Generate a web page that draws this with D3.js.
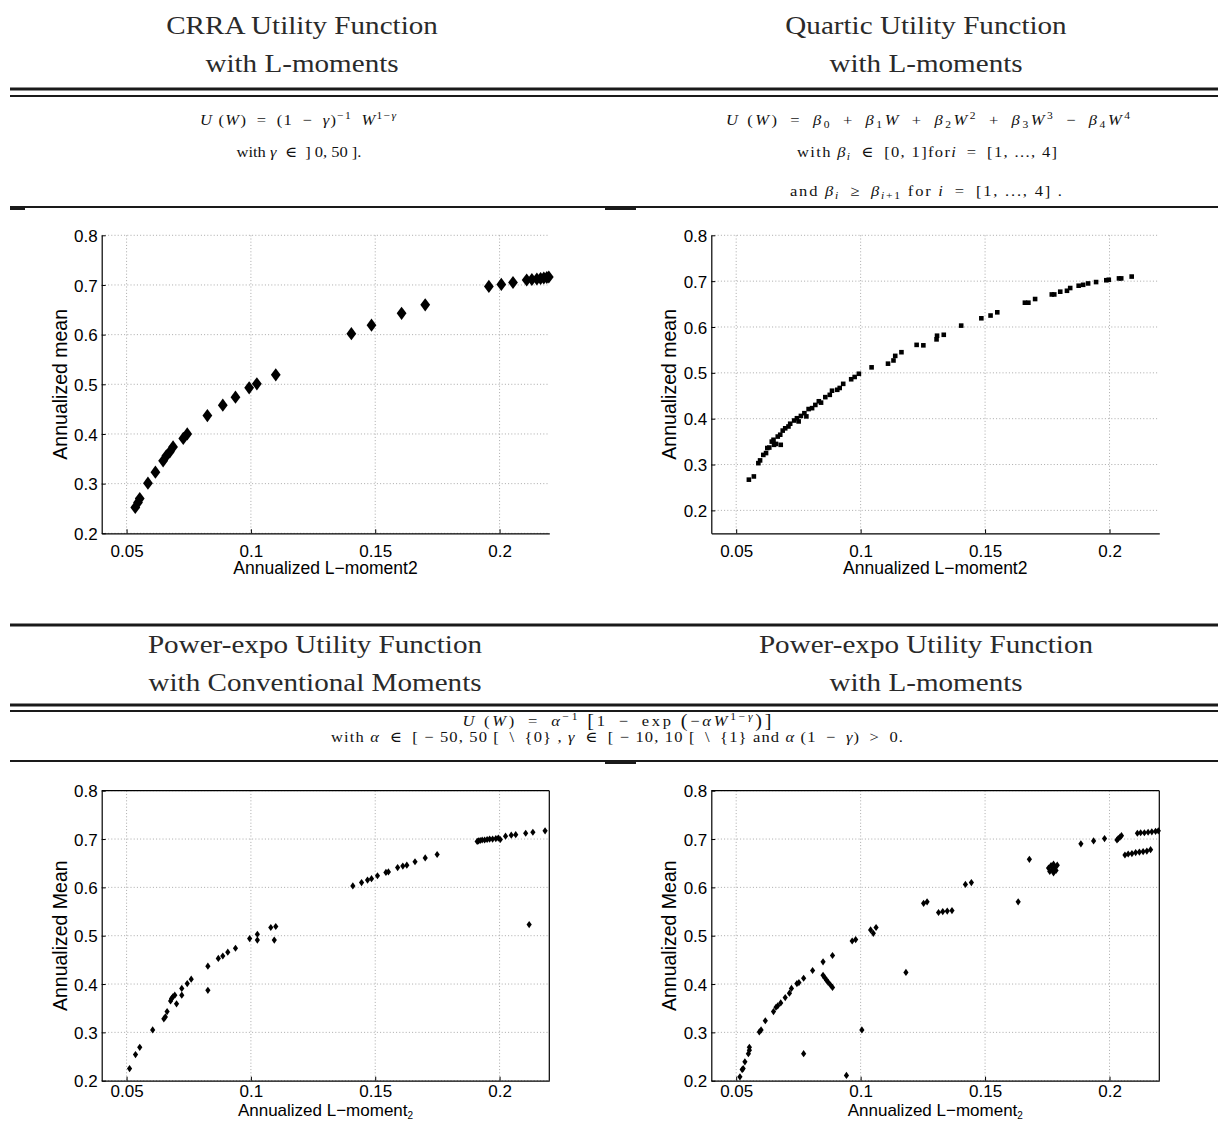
<!DOCTYPE html>
<html><head><meta charset="utf-8">
<script src="https://cdn.jsdelivr.net/npm/d3@7"></script>
<style>body{margin:0;background:#fff}</style>
</head><body><svg id="c" width="1218" height="1122"></svg>
<script>
// ---------- data ----------
const xTicks = [0.05, 0.1, 0.15, 0.2];
const xTickLabels = ["0.05", "0.1", "0.15", "0.2"];
const yTicks = [0.2, 0.3, 0.4, 0.5, 0.6, 0.7, 0.8];
const yTickLabels = ["0.2", "0.3", "0.4", "0.5", "0.6", "0.7", "0.8"];

const panelTitles = [
  ["CRRA Utility Function", "with L-moments"],
  ["Quartic Utility Function", "with L-moments"],
  ["Power-expo Utility Function", "with Conventional Moments"],
  ["Power-expo Utility Function", "with L-moments"]
];
const xLabels = ["Annualized L\u2212moment2", "Annualized L\u2212moment2", "Annualized L\u2212moment", "Annualized L\u2212moment"];
const xLabelSubs = ["", "", "2", "2"];
const yLabels = ["Annualized mean", "Annualized mean", "Annualized Mean", "Annualized Mean"];

const crraL2 = [0.0535,0.0546,0.0553,0.0586,0.0616,0.0647,0.0660,0.0674,0.0687,0.0728,0.0744,0.0825,0.0887,0.0938,0.0993,0.1024,0.1100,0.1404,0.1485,0.1606,0.1701,0.1957,0.2007,0.2054,0.2109,0.2130,0.2150,0.2165,0.2178,0.2190,0.2198];
const crraMean = [0.252,0.262,0.270,0.301,0.323,0.346,0.356,0.364,0.374,0.391,0.400,0.437,0.458,0.474,0.493,0.501,0.519,0.602,0.619,0.643,0.660,0.697,0.701,0.705,0.710,0.711,0.712,0.713,0.714,0.715,0.716];

const quartL2 = [0.0551,0.0571,0.0589,0.0596,0.0609,0.0620,0.0625,0.0633,0.0643,0.0650,0.0652,0.0660,0.0667,0.0677,0.0679,0.0687,0.0697,0.0710,0.0717,0.0733,0.0744,0.0751,0.0760,0.0774,0.0782,0.0791,0.0805,0.0818,0.0832,0.0841,0.0858,0.0876,0.0885,0.0906,0.0916,0.0930,0.0962,0.0976,0.0993,0.1044,0.1110,0.1132,0.1139,0.1164,0.1225,0.1252,0.1305,0.1307,0.1334,0.1404,0.1485,0.1522,0.1549,0.1660,0.1674,0.1701,0.1768,0.1778,0.1802,0.1829,0.1842,0.1876,0.1894,0.1914,0.1946,0.1987,0.1997,0.2038,0.2047,0.2089];
const quartMean = [0.267,0.274,0.303,0.309,0.321,0.325,0.336,0.337,0.350,0.354,0.343,0.345,0.361,0.365,0.343,0.374,0.379,0.383,0.389,0.396,0.401,0.394,0.406,0.412,0.405,0.421,0.423,0.430,0.438,0.435,0.447,0.452,0.461,0.463,0.467,0.476,0.486,0.491,0.498,0.512,0.520,0.527,0.537,0.545,0.561,0.560,0.573,0.581,0.583,0.603,0.619,0.625,0.632,0.653,0.653,0.661,0.671,0.671,0.677,0.679,0.685,0.690,0.692,0.695,0.698,0.702,0.703,0.706,0.706,0.710];

const peConvL2 = [0.0512,0.0536,0.0553,0.0605,0.0650,0.0656,0.0663,0.0677,0.0681,0.0687,0.0694,0.0701,0.0722,0.0722,0.0744,0.0760,0.0827,0.0827,0.0869,0.0887,0.0907,0.0938,0.0995,0.1026,0.1026,0.1080,0.1100,0.1094,0.1410,0.1445,0.1469,0.1485,0.1509,0.1543,0.1553,0.1590,0.1611,0.1627,0.1660,0.1701,0.1749,0.1910,0.1915,0.1922,0.1930,0.1940,0.1950,0.1960,0.1972,0.1985,0.1995,0.2003,0.2024,0.2047,0.2065,0.2105,0.2134,0.2183,0.2119];
const peConvMean = [0.225,0.254,0.269,0.305,0.328,0.332,0.343,0.365,0.370,0.374,0.377,0.359,0.391,0.377,0.401,0.410,0.437,0.387,0.453,0.458,0.466,0.474,0.494,0.503,0.491,0.517,0.519,0.491,0.603,0.610,0.615,0.618,0.624,0.631,0.632,0.641,0.644,0.646,0.653,0.661,0.668,0.695,0.696,0.697,0.698,0.698,0.699,0.700,0.700,0.701,0.702,0.699,0.706,0.708,0.709,0.712,0.714,0.717,0.523];

const peLL2 = [0.0515,0.0524,0.0528,0.0535,0.0549,0.0553,0.0553,0.0593,0.0600,0.0617,0.0650,0.0660,0.0667,0.0679,0.0697,0.0714,0.0722,0.0744,0.0752,0.0771,0.0807,0.0849,0.0887,0.0849,0.0856,0.0863,0.0869,0.0879,0.0887,0.0966,0.0980,0.1040,0.1051,0.1062,0.1005,0.0943,0.0771,0.1182,0.1253,0.1267,0.1313,0.1330,0.1348,0.1367,0.1421,0.1445,0.1633,0.1678,0.1755,0.1760,0.1765,0.1770,0.1775,0.1780,0.1785,0.1790,0.1775,0.1885,0.1936,0.1980,0.2030,0.2035,0.2042,0.2048,0.2062,0.2075,0.2090,0.2105,0.2120,0.2135,0.2150,0.2165,0.2112,0.2125,0.2140,0.2155,0.2170,0.2185,0.2196];
const peLMean = [0.208,0.223,0.225,0.239,0.256,0.263,0.269,0.301,0.305,0.324,0.343,0.352,0.355,0.361,0.372,0.381,0.391,0.401,0.403,0.412,0.428,0.446,0.459,0.418,0.413,0.408,0.404,0.398,0.393,0.489,0.492,0.512,0.505,0.517,0.305,0.211,0.256,0.424,0.567,0.570,0.548,0.550,0.551,0.552,0.606,0.610,0.570,0.658,0.640,0.633,0.645,0.637,0.630,0.642,0.635,0.646,0.648,0.690,0.696,0.701,0.698,0.701,0.704,0.707,0.667,0.669,0.670,0.672,0.673,0.674,0.675,0.678,0.712,0.713,0.713,0.714,0.715,0.716,0.717];

// formulas as [text, style] runs: i = italic, ^ = superscript, _ = subscript, B = big bracket
const S = "\u2002"; // en space used for math operator spacing
const formulaCRRA = [["U","i"],[" (",""],["W","i"],[")"+S+"="+S+"(1"+S+"\u2212"+S,""],["\u03b3","i"],[")",""],["\u22121","^"],[S,""],["W","i"],["1\u2212","^"],["\u03b3","^i"]];
const formulaCRRA2 = [["with ",""],["\u03b3","i"],[S+"\u2208"+S+"] 0, 50 ].",""]];
const formulaQuart = [["U","i"],[" (",""],["W","i"],[")"+S+"="+S,""],["\u03b2","i"],["0","_"],[S+"+"+S,""],["\u03b2","i"],["1","_"],["W","i"],[S+"+"+S,""],["\u03b2","i"],["2","_"],["W","i"],["2","^"],[S+"+"+S,""],["\u03b2","i"],["3","_"],["W","i"],["3","^"],[S+"\u2212"+S,""],["\u03b2","i"],["4","_"],["W","i"],["4","^"]];
const formulaQuart2 = [["with ",""],["\u03b2","i"],["i","_i"],[S+"\u2208"+S+"[0, 1]for",""],["i","i"],[S+"="+S+"[1, ..., 4]",""]];
const formulaQuart3 = [["and ",""],["\u03b2","i"],["i","_i"],[S+"\u2265"+S,""],["\u03b2","i"],["i","_i"],["+1","_"],[" for ",""],["i","i"],[S+"="+S+"[1, ..., 4] .",""]];
const formulaPE = [["U","i"],[" (",""],["W","i"],[")"+S+"="+S,""],["\u03b1","i"],["\u22121","^"],[" ",""],["[","B"],["1"+S+"\u2212"+S+"exp ",""],["(","B"],["\u2212",""],["\u03b1W","i"],["1\u2212","^"],["\u03b3","^i"],[")","B"],["]","B"]];
const formulaPE2 = [["with ",""],["\u03b1","i"],[S+"\u2208"+S+"[ \u2212 50, 50 ["+S+"\\"+S+"{0} , ",""],["\u03b3","i"],[S+"\u2208"+S+"[ \u2212 10, 10 ["+S+"\\"+S+"{1} and ",""],["\u03b1","i"],[" (1"+S+"\u2212"+S,""],["\u03b3","i"],[")"+S+">"+S+"0.",""]];

// ---------- drawing ----------
const svg = d3.select("#c");
svg.append("rect").attr("width",1218).attr("height",1122).attr("fill","#fff");
const SERIF = "'Liberation Serif','DejaVu Serif',serif";
const SANS = "'Liberation Sans',Arial,Helvetica,sans-serif";

function rich(x, y, runs, size, sx, width) {
  const t = svg.append("text").attr("transform", `translate(${x},${y}) scale(${sx},1)`)
    .attr("text-anchor","middle").attr("font-family", SERIF)
    .attr("font-size", size).attr("fill","#111");
  let cur = 0;
  runs.forEach(([s, st]) => {
    let off = 0, fs = size;
    if (st.includes("^")) { off = -0.42*size; fs = 0.7*size; }
    if (st.includes("_")) { off = 0.22*size; fs = 0.7*size; }
    if (st.includes("B")) { off = 0.06*size; fs = 1.22*size; }
    const ts = t.append("tspan").attr("dy", off - cur).attr("font-size", fs).text(s);
    if (st.includes("i")) ts.attr("font-style","italic");
    cur = off;
  });
  const natural = t.node().getComputedTextLength();
  if (width && natural * sx < width) t.attr("textLength", width / sx).attr("lengthAdjust","spacing");
  return t;
}
function rule(y, w, x0=10, x1=1218) {
  svg.append("line").attr("x1",x0).attr("x2",x1).attr("y1",y).attr("y2",y)
    .attr("stroke","#1a1a1a").attr("stroke-width",w);
}

// header rules
rule(89, 3); rule(96, 2.2);
rule(207, 2); rule(209, 2, 10, 25); rule(209, 2, 605, 636);
rule(625, 3); rule(705, 3); rule(711, 2.2);
rule(761, 2); rule(763, 2, 605, 636);

// titles
const colCx = [[302, 926], [315, 926]];
const titleY = [[34, 72], [653, 691]];
panelTitles.forEach((tt, i) => {
  const row = Math.floor(i / 2), cx = colCx[row][i % 2];
  tt.forEach((s, j) => {
    svg.append("text").attr("transform", `translate(${cx},${titleY[row][j]}) scale(1.12,1)`).attr("text-anchor","middle")
      .attr("font-family", SERIF).attr("font-size", 26).attr("fill","#2a2a2a").text(s);
  });
});

// formulas
rich(298, 125, formulaCRRA, 15, 1.1, 196);
rich(299, 157, formulaCRRA2, 15, 1.1, 112);
rich(928, 125, formulaQuart, 15, 1.1, 404);
rich(927, 157, formulaQuart2, 15, 1.1, 260);
rich(926, 196, formulaQuart3, 15, 1.1, 272);
rich(617, 726, formulaPE, 15, 1.1, 309);
rich(617, 742, formulaPE2, 15, 1.1, 572);

// panels
const panels = [
  {x0:101.7, x1:549.3, y0:235.3, y1:533.3, yd:[0.2,0.8], box:false, xs:crraL2, ys:crraMean, mk:"bigD", tp:8, xl:41, xf:17.5},
  {x0:711.3, x1:1159.3, y0:235.3, y1:533.3, yd:[0.15,0.8], box:false, xs:quartL2, ys:quartMean, mk:"sq", tp:8, xl:41, xf:17.5},
  {x0:101.7, x1:549.3, y0:790.7, y1:1080.7, yd:[0.2,0.8], box:true, xs:peConvL2, ys:peConvMean, mk:"smD", tp:1, xl:35.5, xf:17},
  {x0:711.3, x1:1159.3, y0:790.7, y1:1080.7, yd:[0.2,0.8], box:true, xs:peLL2, ys:peLMean, mk:"smD", tp:1, xl:35.5, xf:17}
];
const markers = {
  bigD: "M0,-6.6L4.9,0L0,6.6L-4.9,0Z",
  smD: "M0,-3.6L2.6,0L0,3.6L-2.6,0Z",
  sq: "M-2.3,-2.3H2.3V2.3H-2.3Z"
};

panels.forEach((p, i) => {
  const x = d3.scaleLinear().domain([0.04, 0.22]).range([p.x0, p.x1]);
  const y = d3.scaleLinear().domain(p.yd).range([p.y1, p.y0]);
  const g = svg.append("g");
  // grid
  const grid = g.append("g").attr("stroke","#a0a0a0").attr("stroke-width",0.9).attr("stroke-dasharray","1,2.2");
  xTicks.forEach(v => grid.append("line").attr("x1",x(v)).attr("x2",x(v)).attr("y1",p.y0).attr("y2",p.y1));
  yTicks.forEach(v => grid.append("line").attr("x1",p.x0).attr("x2",p.x1).attr("y1",y(v)).attr("y2",y(v)));
  // axes
  const xa = d3.axisBottom(x).tickValues(xTicks).tickFormat((d, k) => xTickLabels[k]).tickSizeInner(-4).tickSizeOuter(0).tickPadding(p.tp);
  const ya = d3.axisLeft(y).tickValues(yTicks).tickFormat((d, k) => yTickLabels[k]).tickSizeInner(-4).tickSizeOuter(0).tickPadding(4);
  const gx = g.append("g").attr("transform", `translate(0,${p.y1})`).call(xa);
  const gy = g.append("g").attr("transform", `translate(${p.x0},0)`).call(ya);
  [gx, gy].forEach(a => {
    a.selectAll("path").attr("stroke","#000").attr("stroke-width",1.2);
    a.selectAll("line").attr("stroke","#000");
    a.selectAll("text").attr("font-family", SANS).attr("font-size", 17).attr("fill","#000");
  });
  gx.selectAll("text").attr("dy","0.9em");
  gy.selectAll("text").attr("dy","0.36em");
  if (p.box) {
    g.append("line").attr("x1",p.x0).attr("x2",p.x1).attr("y1",p.y0).attr("y2",p.y0).attr("stroke","#000").attr("stroke-width",1.2);
    g.append("line").attr("x1",p.x1).attr("x2",p.x1).attr("y1",p.y0).attr("y2",p.y1).attr("stroke","#000").attr("stroke-width",1.2);
  }
  // labels
  const cx = (p.x0 + p.x1) / 2, cy = (p.y0 + p.y1) / 2;
  const xl = g.append("text").attr("x", cx).attr("y", p.y1 + p.xl).attr("text-anchor","middle")
    .attr("font-family", SANS).attr("font-size", p.xf).attr("fill","#000").text(xLabels[i]);
  if (xLabelSubs[i]) xl.append("tspan").attr("dy", 3).attr("font-size", 10).text(xLabelSubs[i]);
  g.append("text").attr("transform", `translate(${p.x0 - 35},${cy}) rotate(-90)`).attr("text-anchor","middle")
    .attr("font-family", SANS).attr("font-size", 19.5).attr("fill","#000").text(yLabels[i]);
  // points
  g.append("g").selectAll("path").data(p.xs.map((v, k) => [v, p.ys[k]])).join("path")
    .attr("d", markers[p.mk]).attr("transform", d => `translate(${x(d[0])},${y(d[1])})`).attr("fill","#000");
});
</script></body></html>
